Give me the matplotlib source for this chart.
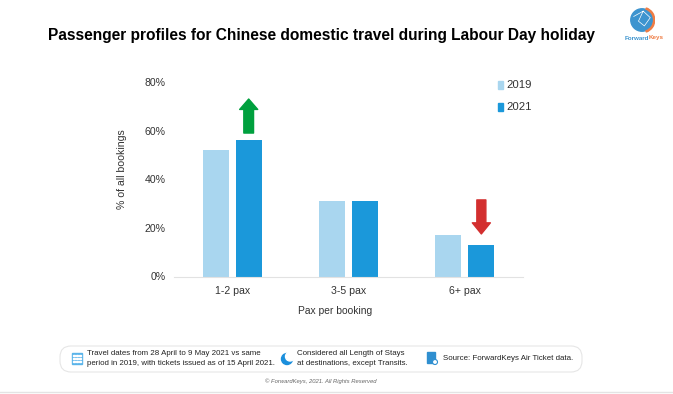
import matplotlib as mpl
mpl.use('Agg')
import matplotlib.pyplot as plt
from matplotlib.patches import Circle, FancyBboxPatch, Rectangle, Wedge
from matplotlib.transforms import IdentityTransform
import numpy as np

categories = ['1-2 pax', '3-5 pax', '6+ pax']
vals_2019 = [52, 31, 17]
vals_2021 = [56, 31, 13]
yticks = [0, 20, 40, 60, 80]

W, H = 673, 394
plt.rcParams['font.family'] = ['Liberation Sans', 'DejaVu Sans']


def px(x, y):
    # reference pixel (origin top left) to figure fraction
    return x/W, 1-y/H


fig = plt.figure(figsize=(W/100, H/100), dpi=100)
ax = fig.add_axes([174/W, 1-276.5/H, 349/W, 194.5/H])

x = np.arange(len(categories))
bw = 0.225
ax.bar(x-0.142, vals_2019, bw, color='#a9d6ef', label='2019')
ax.bar(x+0.142, vals_2021, bw, color='#1b98da', label='2021')

ax.set_xlim(-0.5, 2.5)
ax.set_ylim(0, 80)
ax.set_xticks(x)
ax.set_xticklabels(categories)
ax.set_yticks(yticks)
ax.set_yticklabels(['%d%%' % t for t in yticks])
ax.tick_params(axis='both', length=0, labelsize=7.6, labelcolor='#333333')
ax.tick_params(axis='x', pad=7)
ax.tick_params(axis='y', pad=6)
for s in ['top', 'right', 'left']:
    ax.spines[s].set_visible(False)
ax.spines['bottom'].set_color('#e2e2e2')
ax.set_xlabel('Pax per booking', fontsize=7.4, color='#333333', labelpad=7, x=(335-174)/349)
ax.set_ylabel('% of all bookings', fontsize=7.6, color='#333333', labelpad=13, y=0.553)

# change arrows
ax.annotate('', xy=(0.142, 73), xytext=(0.142, 59),
            arrowprops=dict(width=7, headwidth=13, headlength=7.5, color='#00a03e', shrinkA=0, shrinkB=0))
ax.annotate('', xy=(2.142, 17.5), xytext=(2.142, 31.5),
            arrowprops=dict(width=6.5, headwidth=13, headlength=8, color='#d32f2f', shrinkA=0, shrinkB=0))

# legend
for lbl, col, y in [('2019', '#a9d6ef', 85), ('2021', '#1b98da', 107)]:
    fig.patches.append(Rectangle(px(498, y+4), 5/W, 8/H, color=col, transform=fig.transFigure))
    fig.text(*px(506, y), lbl, fontsize=8.2, color='#333333', va='center')

fig.text(*px(321.5, 35.5), 'Passenger profiles for Chinese domestic travel during Labour Day holiday',
         fontsize=11.2, fontweight='bold', color='black', ha='center', va='center')

# logo
logo = fig.add_axes([629/W, 1-33/H, 26/W, 26/H])
logo.set_xlim(-1.1, 1.1)
logo.set_ylim(-1.1, 1.1)
logo.axis('off')
logo.add_patch(Circle((0, 0), 0.95, color='#3d94cf'))
logo.add_patch(Wedge((0, 0), 1.08, -70, 70, width=0.1, color='#ef7d45'))
logo.plot([-0.7, 0.1, 0.7, 0.2, -0.3, 0.1], [0.3, 0.75, 0.2, -0.5, -0.1, 0.75], color='white', lw=0.5)
fig.text(*px(649, 38), 'Forward', fontsize=4.5, color='#3d94cf', ha='right', va='center', fontweight='bold')
fig.text(*px(649, 38), 'Keys', fontsize=4.5, color='#ef7d45', ha='left', va='center', fontweight='bold')

# footer box, in pixels
fig.patches.append(FancyBboxPatch((60, H-372), 522, 26, transform=IdentityTransform(),
                                  boxstyle='round,pad=0,rounding_size=11',
                                  fc='white', ec='#e6e6e6', lw=0.8))
note = dict(fontsize=5.7, color='#222222', va='center', linespacing=1.5)
fig.text(*px(87, 358.5), 'Travel dates from 28 April to 9 May 2021 vs same\nperiod in 2019, with tickets issued as of 15 April 2021.', **note)
fig.text(*px(297, 358.5), 'Considered all Length of Stays\nat destinations, except Transits.', **note)
fig.text(*px(443, 358.5), 'Source: ForwardKeys Air Ticket data.', **note)

# footer icons, in pixels
pix = IdentityTransform()
fig.patches.append(Rectangle((72, H-364), 10, 11, color='#5ab4ea', transform=pix))
for ix in [74, 77, 80]:
    for iy in [356, 359, 362]:
        fig.patches.append(Rectangle((ix-1, H-iy), 1.5, 1.5, color='white', transform=pix))
fig.patches.append(Circle((287, H-359), 5.5, color='#1b8fdc', transform=pix))
fig.patches.append(Circle((290, H-356.5), 4.5, color='white', transform=pix))
fig.patches.append(Rectangle((427, H-363), 8, 11, color='#2f8fd0', transform=pix))
fig.patches.append(Circle((435, H-362), 2.5, fc='white', ec='#2f8fd0', lw=0.8, transform=pix))

fig.text(*px(321, 381.5), '© ForwardKeys, 2021. All Rights Reserved', fontsize=4.2, style='italic',
         color='#666666', ha='center', va='center')
fig.add_artist(plt.Line2D([0, 1], [1-391.5/H, 1-391.5/H], color='#e4e4e4', lw=1, transform=fig.transFigure))

fig.savefig('out.png', dpi=100)
plt.close()
